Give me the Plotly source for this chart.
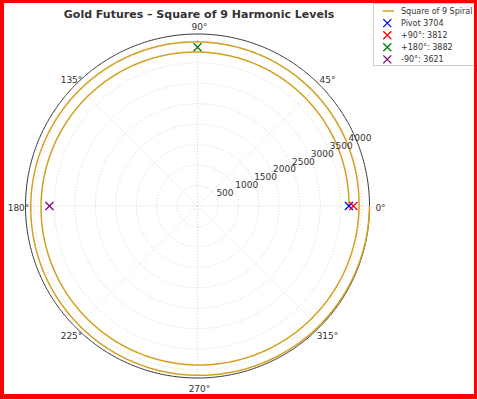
import plotly.graph_objects as go
import numpy as np

W, H = 477, 399

# ---- data ----
title_text = "Gold Futures – Square of 9 Harmonic Levels"
pivot = 3704
spiral_turns = 2  # Square of 9: each 360° adds 2 to the square root
spiral_name = "Square of 9 Spiral"
marker_names = ["Pivot 3704", "+90°: 3812", "+180°: 3882", "-90°: 3621"]
marker_values = [3704, 3812, 3882, 3621]
marker_angles = [0, 0, 90, 180]
marker_colors = ["blue", "red", "green", "purple"]
angle_ticks = [0, 45, 90, 135, 180, 225, 270, 315]
angle_labels = ["0°", "45°", "90°", "135°", "180°", "225°", "270°", "315°"]
radial_ticks = [500, 1000, 1500, 2000, 2500, 3000, 3500, 4000]
radial_labels = ["500", "1000", "1500", "2000", "2500", "3000", "3500", "4000"]

GOLD = "#D4A020"
TXT = "#333333"
GRID = "#d4d4d4"

# Square of 9 spiral from the pivot
theta = np.linspace(0, 360 * spiral_turns, 1441)
r_spiral = (np.sqrt(pivot) + theta / 180.0) ** 2
rmax = float(r_spiral.max())
outer = rmax * 1.08          # extra room for the angle labels

cx, cy, R = 197.5, 206.0, 172.0   # rim geometry in pixels
Rd = R * outer / rmax

# angle-label placement: radius 181 px, nudged right 2 px and down 3 px
lab_rad = np.deg2rad(np.array(angle_ticks, dtype=float))
lab_x = 181.0 * np.cos(lab_rad) + 2.0
lab_y = 181.0 * np.sin(lab_rad) - 3.0
label_r = np.hypot(lab_x, lab_y) * rmax / R
label_t = np.rad2deg(np.arctan2(lab_y, lab_x))

fig = go.Figure()
# angular grid spokes (stop at the rim)
for a in angle_ticks:
    fig.add_trace(go.Scatterpolar(
        r=[0, rmax], theta=[a, a], mode="lines",
        line=dict(color=GRID, width=1, dash="1px,2px"),
        showlegend=False, hoverinfo="skip",
    ))
# outer rim
rim_theta = np.linspace(0, 360, 721)
fig.add_trace(go.Scatterpolar(
    r=[rmax] * len(rim_theta), theta=rim_theta, mode="lines",
    line=dict(color="#333333", width=1), showlegend=False, hoverinfo="skip",
))
fig.add_trace(go.Scatterpolar(
    r=r_spiral, theta=theta, mode="lines",
    line=dict(color=GOLD, width=1.5),
    name=spiral_name, showlegend=False,
))
for nm, v, a, c in zip(marker_names, marker_values, marker_angles, marker_colors):
    fig.add_trace(go.Scatterpolar(
        r=[v], theta=[a], mode="markers", name=nm, showlegend=False,
        marker=dict(symbol="x-thin", size=8, line=dict(color=c, width=1.3), color=c),
    ))
# radial tick labels placed at 22.5°
fig.add_trace(go.Scatterpolar(
    r=radial_ticks, theta=[22.5] * len(radial_ticks), mode="text",
    text=radial_labels, textposition="top right",
    textfont=dict(size=9, color=TXT, family="DejaVu Sans"),
    showlegend=False, hoverinfo="skip",
))
# angular tick labels just outside the rim
fig.add_trace(go.Scatterpolar(
    r=label_r, theta=label_t, mode="text",
    text=angle_labels, textposition="middle center", cliponaxis=False,
    textfont=dict(size=9, color=TXT, family="DejaVu Sans"),
    showlegend=False, hoverinfo="skip",
))

# ---- custom compact legend (cartesian overlay) ----
legend_labels = [spiral_name] + marker_names
row_gap = 12.1
row0 = 7.0
rows = [row0 + i * row_gap for i in range(len(legend_labels))]
fig.add_trace(go.Scatter(
    x=[8.7, 20.0], y=[rows[0], rows[0]], mode="lines",
    line=dict(color=GOLD, width=1.5), showlegend=False, hoverinfo="skip",
    xaxis="x", yaxis="y",
))
for i, c in enumerate(marker_colors):
    fig.add_trace(go.Scatter(
        x=[13.3], y=[rows[i + 1]], mode="markers",
        marker=dict(symbol="x-thin", size=8, line=dict(color=c, width=1.3), color=c),
        showlegend=False, hoverinfo="skip", xaxis="x", yaxis="y",
    ))
annotations = []
for i, lab in enumerate(legend_labels):
    annotations.append(dict(
        x=25.0, y=rows[i], xref="x", yref="y", text=lab, showarrow=False,
        xanchor="left", yanchor="middle", font=dict(size=8, color=TXT, family="DejaVu Sans"),
    ))

lx0, lx1, ly0, ly1 = 374, 474, 4, 65
fig.update_layout(
    width=W, height=H,
    margin=dict(l=0, r=0, t=0, b=0),
    paper_bgcolor="white", plot_bgcolor="white",
    font=dict(family="DejaVu Sans", size=9, color=TXT),
    title=dict(text="<b>" + title_text + "</b>", x=199 / W, xanchor="center",
               y=1 - 14 / H, yanchor="middle",
               font=dict(size=11, color=TXT, family="DejaVu Sans")),
    polar=dict(
        domain=dict(x=[(cx - Rd) / W, (cx + Rd) / W], y=[1 - (cy + Rd) / H, 1 - (cy - Rd) / H]),
        bgcolor="rgba(0,0,0,0)",
        angularaxis=dict(
            rotation=0, direction="counterclockwise",
            tickmode="array", tickvals=angle_ticks, showticklabels=False,
            showline=False, showgrid=False, ticks="",
        ),
        radialaxis=dict(
            range=[0, outer], tickmode="array", tickvals=radial_ticks,
            angle=22.5, showticklabels=False, showline=False, ticks="",
            gridcolor=GRID, griddash="1px,2px", gridwidth=1,
        ),
    ),
    xaxis=dict(domain=[lx0 / W, lx1 / W], range=[0, lx1 - lx0], fixedrange=True,
               showgrid=False, zeroline=False, showticklabels=False,
               showline=True, mirror=True, linecolor="#cccccc", linewidth=1, ticks=""),
    yaxis=dict(domain=[1 - ly1 / H, 1 - ly0 / H], range=[ly1 - ly0, 0], fixedrange=True,
               showgrid=False, zeroline=False, showticklabels=False,
               showline=True, mirror=True, linecolor="#cccccc", linewidth=1, ticks=""),
    annotations=annotations,
    showlegend=False,
    shapes=[
        dict(type="rect", xref="paper", yref="paper", x0=0, x1=4 / W, y0=0, y1=1,
             fillcolor="red", line=dict(width=0)),
        dict(type="rect", xref="paper", yref="paper", x0=474 / W, x1=1, y0=0, y1=1,
             fillcolor="red", line=dict(width=0)),
        dict(type="rect", xref="paper", yref="paper", x0=0, x1=1, y0=1 - 3 / H, y1=1,
             fillcolor="red", line=dict(width=0)),
        dict(type="rect", xref="paper", yref="paper", x0=0, x1=1, y0=0, y1=5 / H,
             fillcolor="red", line=dict(width=0)),
    ],
)

fig.write_html("out.html", config=dict(displayModeBar=False),
               post_script="document.body.style.margin='0';document.body.style.overflow='hidden';")
